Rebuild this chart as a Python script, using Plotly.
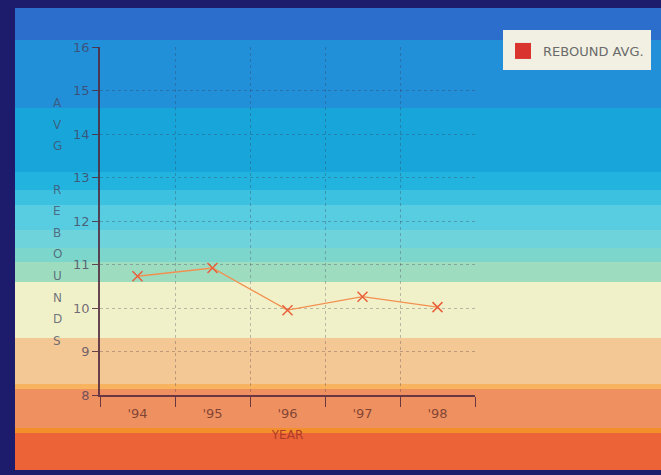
import plotly.graph_objects as go

# ---- data ----
years = ["'94", "'95", "'96", "'97", "'98"]
rebound_avg = [10.73, 10.92, 9.95, 10.26, 10.02]
y_ticks = [8, 9, 10, 11, 12, 13, 14, 15, 16]
y_title_letters = ["A", "V", "G", "", "R", "E", "B", "O", "U", "N", "D", "S"]
legend_label = "REBOUND AVG."

W, H = 661, 475
PL, PR, PT, PB = 100, 475, 47, 395  # plot area in pixels


def xp(px):
    return (px - PL) / (PR - PL)


def yp(py):
    return (PB - py) / (PB - PT)


# background bands (pixel y ranges, colour)
bands = [
    (8, 40, "#2c6ecb"),
    (40, 108, "#2190d8"),
    (108, 172, "#18a6da"),
    (172, 190, "#22b4de"),
    (190, 205, "#3cc2e0"),
    (205, 230, "#58cce0"),
    (230, 248, "#6fd3dc"),
    (248, 262, "#7dd6cc"),
    (262, 282, "#9edcc0"),
    (282, 338, "#f1f1c9"),
    (338, 384, "#f4c895"),
    (384, 389, "#f7b35e"),
    (389, 428, "#ef9060"),
    (428, 433, "#f3902c"),
    (433, 470, "#eb6337"),
]

shapes = []
for y0, y1, col in bands:
    shapes.append(dict(type="rect", xref="paper", yref="paper",
                       x0=xp(15), x1=xp(W + 2), y0=yp(y1), y1=yp(y0),
                       fillcolor=col, line=dict(width=0), layer="below"))
# legend box background
shapes.append(dict(type="rect", xref="paper", yref="paper",
                   x0=xp(503), x1=xp(651), y0=yp(70), y1=yp(30),
                   fillcolor="#f1f0e2", line=dict(width=0), layer="below"))

xpos = [i + 0.5 for i in range(len(years))]

fig = go.Figure()
fig.add_trace(go.Scatter(
    x=xpos, y=rebound_avg, mode="lines+markers",
    line=dict(color="#f29050", width=1.3),
    marker=dict(symbol="x-thin", size=10, line=dict(color="#e8603a", width=1.5)),
    showlegend=False, hoverinfo="skip",
))
fig.add_trace(go.Scatter(
    x=[None], y=[None], mode="markers", name=legend_label,
    marker=dict(symbol="square", size=17, color="#d9352e"),
))

annotations = []
n = len(y_title_letters)
for i, ch in enumerate(y_title_letters):
    if not ch:
        continue
    py = 103 + i * (341 - 103) / (n - 1)
    annotations.append(dict(text=ch, xref="paper", yref="paper", x=xp(57), y=yp(py),
                            showarrow=False, xanchor="center", yanchor="middle",
                            font=dict(size=12, color="rgba(70,75,100,0.75)",
                                      family="DejaVu Sans")))

grid_col = "rgba(60,45,70,0.3)"
axis_col = "rgba(80,40,60,0.85)"

fig.update_layout(
    width=W, height=H,
    margin=dict(l=PL, r=W - PR, t=PT, b=H - PB),
    paper_bgcolor="#1d1b6b",
    plot_bgcolor="rgba(0,0,0,0)",
    shapes=shapes,
    annotations=annotations,
    font=dict(family="DejaVu Sans"),
    xaxis=dict(
        range=[0, 5], tickvals=xpos, ticktext=years, ticks="",
        showgrid=False, zeroline=False,
        showline=True, linecolor=axis_col, linewidth=1.5,
        tickfont=dict(size=13, color="rgba(110,55,45,0.85)"),
        ticklabelstandoff=6,
        title=dict(text="YEAR", font=dict(size=12, color="#b03a28"), standoff=10),
        minor=dict(tickvals=[0, 1, 2, 3, 4, 5], ticks="outside", ticklen=10,
                   tickcolor=axis_col, tickwidth=1.2,
                   showgrid=True, gridcolor=grid_col, griddash="dot", gridwidth=1),
        fixedrange=True,
    ),
    yaxis=dict(
        range=[8, 16], tickvals=y_ticks, ticks="outside", ticklen=6,
        tickcolor=axis_col, tickwidth=1.2,
        showgrid=True, gridcolor=grid_col, griddash="dot", gridwidth=1,
        zeroline=False, showline=True, linecolor=axis_col, linewidth=1.5,
        tickfont=dict(size=13, color="rgba(70,60,90,0.75)"),
        fixedrange=True,
    ),
    legend=dict(
        x=xp(503), y=yp(36), xanchor="left", yanchor="top",
        bgcolor="rgba(0,0,0,0)", borderwidth=0,
        font=dict(size=13, color="#6b6b6b"),
    ),
)

fig.write_html(
    "out.html",
    config={"displayModeBar": False},
    post_script="document.body.style.margin='0';document.body.style.background='#1d1b6b';",
)
